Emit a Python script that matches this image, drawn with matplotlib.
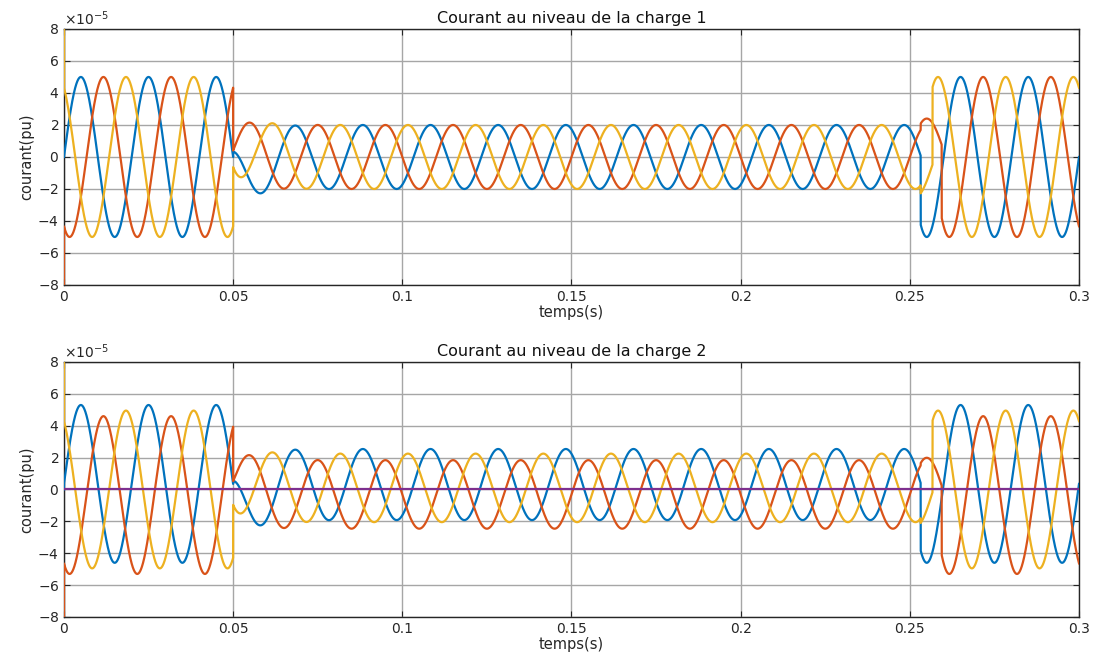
import numpy as np
import matplotlib
matplotlib.use("Agg")
import matplotlib.pyplot as plt
from matplotlib.ticker import ScalarFormatter

plt.rcParams['font.family'] = ['DejaVu Sans']
plt.rcParams['axes.unicode_minus'] = False

# waveform parameters (values in 1e-5 pu)
titles = ["Courant au niveau de la charge 1", "Courant au niveau de la charge 2"]
colors = ["#0072BD", "#D95319", "#EDB120"]
freq = 50.0
t_end = 0.3
phase_deg = [0, -120, 120]          # blue, red, yellow
lag_low_deg = 60                    # extra lag during the reduced-load interval
t_drop = [0.05, 0.05, 0.05]
t_restore = [0.2532, 0.2594, 0.2567]
amp_full = [[5.0, 5.0, 5.0], [4.95, 4.95, 4.95]]
bias_full = [[0.0, 0.0, 0.0], [0.35, -0.35, 0.0]]
amp_low = [[2.0, 2.0, 2.0], [2.23, 2.15, 2.15]]
bias_low = [[0.0, 0.0, 0.0], [0.31, -0.31, 0.1]]
jump_offset = [[-1.4, 0.4, 1.1], [-1.7, 0.83, 0.8]]
tau = 0.005
window_offset = [[0.0, 0.4, -0.5], [0.0, 0.15, -0.3]]
spike_t0 = [0.0, -10.0, 10.0]
neutral = [None, 0.0]

t = np.linspace(0, t_end, 30001)
w = 2 * np.pi * freq

fig = plt.figure(figsize=(10.97, 6.66), dpi=100)
axes_pos = [[0.0583, 0.5721, 0.9253, 0.3844], [0.0583, 0.0736, 0.9253, 0.3829]]

for s in range(2):
    ax = fig.add_axes(axes_pos[s])
    for k in range(3):
        ph = np.deg2rad(phase_deg[k])
        full = bias_full[s][k] + amp_full[s][k] * np.sin(w * t + ph)
        low = bias_low[s][k] + amp_low[s][k] * np.sin(w * t + ph - np.deg2rad(lag_low_deg))
        low = low + jump_offset[s][k] * np.exp(-np.clip(t - t_drop[k], 0, None) / tau)
        win = (t >= t_restore[0]) & (t < t_restore[k])
        low = low + np.where(win, window_offset[s][k], 0.0)
        y = np.where((t >= t_drop[k]) & (t < t_restore[k]), low, full)
        y[0] = spike_t0[k]
        ax.plot(t, y * 1e-5, color=colors[k], lw=1.6, zorder=3)
    if neutral[s] is not None:
        ax.plot([0, t_end], [neutral[s] * 1e-5, neutral[s] * 1e-5], color="#7E2F8E", lw=1.6, zorder=3)

    ax.set_xlim(0, t_end)
    ax.set_ylim(-8e-5, 8e-5)
    ax.set_xticks([0, 0.05, 0.1, 0.15, 0.2, 0.25, 0.3])
    ax.set_xticklabels(["0", "0.05", "0.1", "0.15", "0.2", "0.25", "0.3"])
    ax.set_yticks(np.arange(-8, 9, 2) * 1e-5)
    fmt = ScalarFormatter(useMathText=True)
    fmt.set_powerlimits((0, 0))
    ax.yaxis.set_major_formatter(fmt)
    ax.yaxis.get_offset_text().set_fontsize(10)
    ax.yaxis.get_offset_text().set_color("#262626")
    ax.grid(True, color="#a6a6a6", lw=1.0)
    ax.tick_params(direction="in", length=4, labelsize=10, colors="#262626", top=True, right=True)
    for sp in ax.spines.values():
        sp.set_color("#262626")
        sp.set_linewidth(1.0)
    ax.set_title(titles[s], fontsize=11.5, color="#111111", pad=4)
    ax.set_xlabel("temps(s)", fontsize=10.5, color="#262626", labelpad=1)
    ax.set_ylabel("courant(pu)", fontsize=10.5, color="#262626", labelpad=2)

fig.savefig("out.png", dpi=100)
